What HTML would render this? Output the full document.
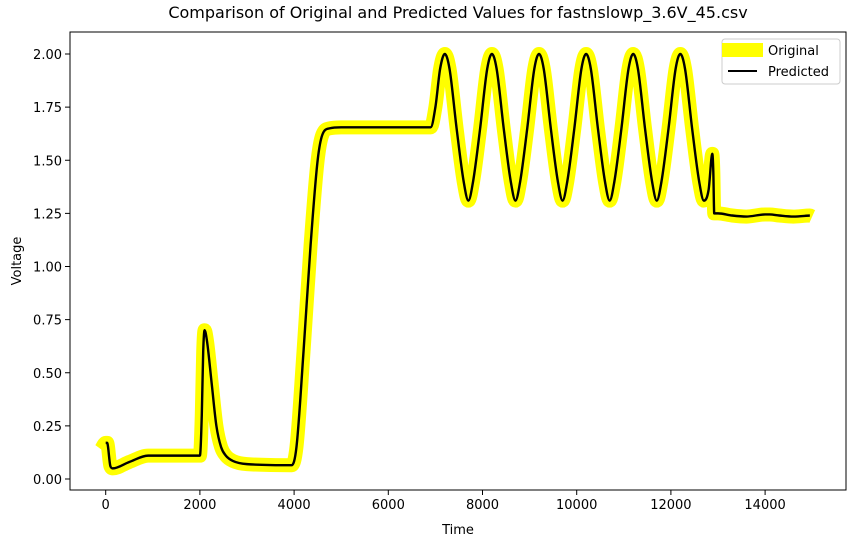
<!DOCTYPE html>
<html><head><meta charset="utf-8"><style>
html,body{margin:0;padding:0;background:#fff;}
svg{display:block;font-family:"DejaVu Sans","Liberation Sans",sans-serif;}
</style></head><body>
<svg id="chart" width="855" height="547" xmlns="http://www.w3.org/2000/svg">
<rect width="855" height="547" fill="#fff"/>
<text x="458" y="18" font-size="16" text-anchor="middle">Comparison of Original and Predicted Values for fastnslowp_3.6V_45.csv</text>
<g id="plot"></g>
<g id="axes"></g>
<text x="458" y="534" font-size="13" text-anchor="middle">Time</text>
<text transform="translate(21,261) rotate(-90)" font-size="13" text-anchor="middle">Voltage</text>
<g>
<rect x="722" y="39" width="118" height="45" rx="3" fill="#fff" fill-opacity="0.8" stroke="#ccc"/>
<line x1="722" y1="50" x2="763" y2="50" stroke="#ffff00" stroke-width="14"/>
<text x="768" y="55" font-size="13">Original</text>
<line x1="728" y1="71" x2="757" y2="71" stroke="#000" stroke-width="2"/>
<text x="768" y="76" font-size="13">Predicted</text>
</g>
</svg>
<script>
const times = [-100,0,30,100,150,500,900,2000,2040,2070,2100,2150,2250,2350,2450,2550,2700,3000,3950,4050,4200,4350,4500,4600,4750,5000,6900,
7000,7100,7200,7300,7450,7600,7700,7800,7950,8100,8200,8300,8450,8600,8700,8800,8950,9100,9200,9300,9450,9600,9700,9800,9950,10100,10200,10300,10450,10600,10700,10800,10950,11100,11200,11300,11450,11600,11700,11800,11950,12100,12200,12300,12450,12600,12700,12800,12880,12900,12920,13000,13300,13600,14000,14100,14300,14600,14950,15000];
const original = [0.14,0.17,0.17,0.06,0.05,0.08,0.11,0.11,0.3,0.6,0.70,0.65,0.45,0.25,0.15,0.11,0.085,0.07,0.065,0.15,0.6,1.1,1.5,1.62,1.65,1.655,1.655,
1.75,1.93,2.0,1.93,1.65,1.40,1.31,1.40,1.65,1.93,2.0,1.93,1.65,1.40,1.31,1.40,1.65,1.93,2.0,1.93,1.65,1.40,1.31,1.40,1.65,1.93,2.0,1.93,1.65,1.40,1.31,1.40,1.65,1.93,2.0,1.93,1.65,1.40,1.31,1.40,1.65,1.93,2.0,1.93,1.65,1.40,1.31,1.36,1.53,1.45,1.25,1.25,1.24,1.235,1.245,1.245,1.24,1.235,1.24,1.235];
const predicted = original.slice();
const xTicks = [0,2000,4000,6000,8000,10000,12000,14000];
const yTicks = [0,0.25,0.5,0.75,1.0,1.25,1.5,1.75,2.0];
const NS="http://www.w3.org/2000/svg";
const L=70,R=846,T=32,B=490;
const xs=t=>105.7+(t)*(94.2/2000);
const ys=v=>479-v*212.5;
function monoPath(pts){
  const n=pts.length, d=[], m=[];
  for(let i=0;i<n-1;i++) d.push((pts[i+1][1]-pts[i][1])/(pts[i+1][0]-pts[i][0]));
  m[0]=d[0]; m[n-1]=d[n-2];
  for(let i=1;i<n-1;i++){ m[i]=(d[i-1]*d[i]<=0)?0:(d[i-1]+d[i])/2; }
  for(let i=0;i<n-1;i++){
    if(d[i]===0){m[i]=0;m[i+1]=0;continue;}
    const a=m[i]/d[i], b=m[i+1]/d[i], s=a*a+b*b;
    if(s>9){const t=3/Math.sqrt(s);m[i]=t*a*d[i];m[i+1]=t*b*d[i];}
  }
  let p="M"+pts[0][0]+","+pts[0][1];
  for(let i=0;i<n-1;i++){
    const dx=(pts[i+1][0]-pts[i][0])/3;
    p+=" C"+(pts[i][0]+dx)+","+(pts[i][1]+m[i]*dx)+" "+(pts[i+1][0]-dx)+","+(pts[i+1][1]-m[i+1]*dx)+" "+pts[i+1][0]+","+pts[i+1][1];
  }
  return p;
}
const plot=document.getElementById('plot');
const op=times.map((t,i)=>[xs(t),ys(original[i])]);
const po=[];times.forEach((t,i)=>{if(t>=0&&t<=14950)po.push([xs(t),ys(predicted[i])]);});
const p1=document.createElementNS(NS,'path');


p1.setAttribute('d',monoPath(op));p1.setAttribute('fill','none');p1.setAttribute('stroke','#ffff00');p1.setAttribute('stroke-width','14');p1.setAttribute('stroke-linejoin','round');
plot.appendChild(p1);
const p2=document.createElementNS(NS,'path');


p2.setAttribute('d',monoPath(po));p2.setAttribute('fill','none');p2.setAttribute('stroke','#000');p2.setAttribute('stroke-width','2.4');
plot.appendChild(p2);
const ax=document.getElementById('axes');
const fr=document.createElementNS(NS,'rect');


fr.setAttribute('x',L);fr.setAttribute('y',T);fr.setAttribute('width',R-L);fr.setAttribute('height',B-T);fr.setAttribute('fill','none');fr.setAttribute('stroke','#000');fr.setAttribute('stroke-width','1');
ax.appendChild(fr);
xTicks.forEach(t=>{
  const x=xs(t);
  const ln=document.createElementNS(NS,'line');
  
  
  ln.setAttribute('x1',x);ln.setAttribute('x2',x);ln.setAttribute('y1',B);ln.setAttribute('y2',B+5);ln.setAttribute('stroke','#000');
  ax.appendChild(ln);
  const tx=document.createElementNS(NS,'text');
  
  
  tx.setAttribute('x',x);tx.setAttribute('y',B+19);tx.setAttribute('font-size','13');tx.setAttribute('text-anchor','middle');tx.textContent=t;
  ax.appendChild(tx);
});
yTicks.forEach(v=>{
  const y=ys(v);
  const ln=document.createElementNS(NS,'line');
  
  
  ln.setAttribute('x1',L-5);ln.setAttribute('x2',L);ln.setAttribute('y1',y);ln.setAttribute('y2',y);ln.setAttribute('stroke','#000');
  ax.appendChild(ln);
  const tx=document.createElementNS(NS,'text');
  
  
  tx.setAttribute('x',L-8);tx.setAttribute('y',y+5);tx.setAttribute('font-size','13');tx.setAttribute('text-anchor','end');tx.textContent=v.toFixed(2);
  ax.appendChild(tx);
});
</script>
</body></html>
